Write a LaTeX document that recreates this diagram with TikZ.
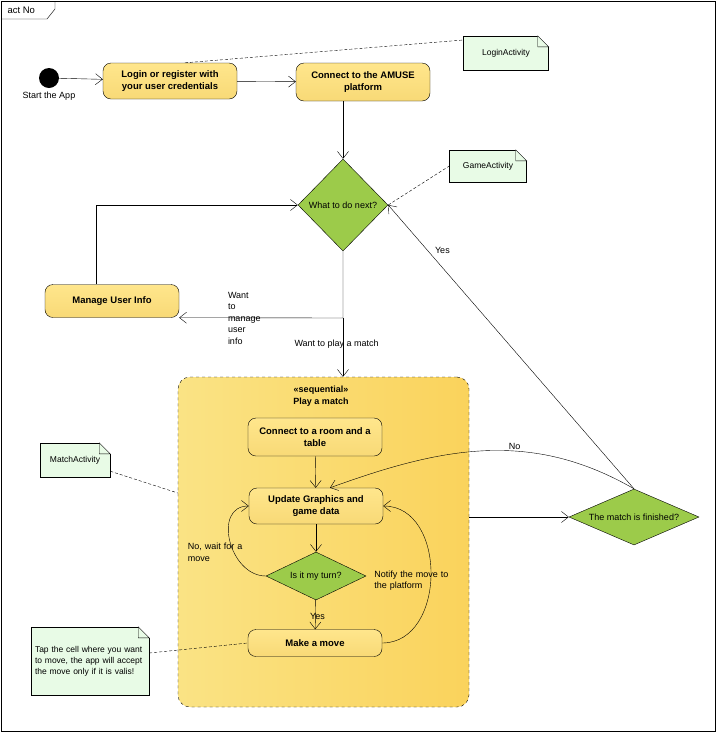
\documentclass[tikz,border=0pt]{standalone}
\usepackage{fontspec}
\setmainfont{Liberation Sans}
\usetikzlibrary{shapes.geometric, positioning, arrows.meta}
\definecolor{actfill}{HTML}{FFE68C}
\definecolor{actdark}{HTML}{F5C93C}
\definecolor{decfill}{HTML}{9CCB4A}
\definecolor{notefill}{HTML}{E8FBE6}
\definecolor{boxfill}{HTML}{F9DC66}
\tikzset{action/.style={draw, rounded corners=8pt, top color=actfill, bottom color=actdark!70, minimum width=134pt, minimum height=36pt, align=center, font=\fontsize{9.5}{12}\selectfont\bfseries},
         decision/.style={draw, diamond, fill=decfill, aspect=1, inner sep=0pt, font=\fontsize{9}{10}\selectfont},
         note/.style={draw, fill=notefill, align=left, font=\fontsize{8.5}{11}\selectfont, inner sep=4pt},
         lbl/.style={font=\fontsize{9}{11.5}\selectfont, align=left},
         flow/.style={-{Straight Barb[length=7pt,width=11pt]}},
         anchorline/.style={dashed, dash pattern=on 3pt off 2pt},
        }
\begin{document}
\begin{tikzpicture}[x=1pt,y=-1pt]
        \useasboundingbox (0,0) rectangle (716,732);
        \draw (1,1) rectangle (715,731);
        \draw (1,19) -- (47,19) -- (55,9) -- (55,1);
        \node[lbl, anchor=west, font=\fontsize{9.5}{11}\selectfont] (title) at (4,10) {act No};

        % sequential region
        \node[draw, dashed, rounded corners=12pt, left color=boxfill!80!white, right color=boxfill!90!orange, minimum width=291pt, minimum height=330pt] (seq) at (323.5,542) {};
        \node[align=center, font=\fontsize{9}{12}\selectfont\bfseries, anchor=north] (seqlbl) at (321,382) {«sequential»\\Play a match};

        \node[circle, fill=black, minimum size=20pt, inner sep=0pt, label={[lbl]below:Start the App}] (start) at (49,78) {};
        \node[action, minimum height=36pt] (login) at (170,81) {Login or register with\\your user credentials};
        \node[action, minimum height=38pt] (amuse) at (363,82) {Connect to the AMUSE\\platform};
        \node[decision, minimum width=90pt, minimum height=92pt] (next) at (343,205) {What to do next?};
        \node[action, minimum height=33pt] (user) at (112,301) {Manage User Info};

        \node[action, minimum height=38pt] (room) at (315,437) {Connect to a room and a\\table};
        \node[action, minimum height=36pt] (update) at (316,506) {Update Graphics and\\game data};
        \node[decision, minimum width=100pt, minimum height=48pt, aspect=2] (turn) at (316,576) {Is it my turn?};
        \node[action, minimum height=27pt] (move) at (315,643) {Make a move};
        \node[decision, minimum width=130pt, minimum height=56pt, aspect=2.3] (finished) at (634,517) {The match is finished?};

        \node[note, minimum width=85pt, minimum height=34pt] (nlogin) at (506,53) {LoginActivity};
        \node[note, minimum width=77pt, minimum height=32pt] (ngame) at (488,166) {GameActivity};
        \node[note, minimum width=70pt, minimum height=34pt] (nmatch) at (75,460) {MatchActivity};
        \node[note, text width=110pt, minimum height=68pt] (ntap) at (90,661) {Tap the cell where you want to move, the app will accept the move only if it is valis!};
        \foreach \n in {nlogin,ngame,nmatch,ntap}{
          \fill[white] (\n.north east) ++(-11,-1) rectangle ++(12,12);
          \draw[fill=notefill] (\n.north east) ++(-11,0) -- ++(11,11) -- ++(-11,0) -- cycle;
        }

        \draw[flow] (start) -- (login);
        \draw[flow] (login) -- (amuse);
        \draw[flow] (amuse.south -| next) -- (next);
        \draw[flow] (user.north west) ++(51,0) |- (next.west);
        \coordinate (split) at (343,318);
        \draw[flow] (next.south) -- (split) -- (user.south east);
        \draw[flow] (split) -- (seq.north -| split) node[lbl, pos=0.45, right=-52pt] {Want to play a match};
        \node[lbl, text width=30pt] (wantuser) at (243,318) {Want\\to\\manage\\user\\info};

        \draw[flow] (room) -- (update);
        \draw[flow] (update) -- (turn);
        \draw[flow] (turn) -- (move) node[lbl, midway, left=-13pt, yshift=-2pt] {Yes};
        \draw[flow] (turn.west) to[out=180, in=180, looseness=1.3] node[lbl, pos=0.45, left=-28pt, yshift=-6pt, text width=68pt] {No, wait for a\\move} (update.west);
        \draw[flow] (move.east) to[out=0, in=0, looseness=1.2] node[lbl, pos=0.5, left=-43pt, yshift=-6pt, text width=96pt] {Notify the move to\\the platform} (update.east);
        \draw[flow] (seq.east |- finished) -- (finished.west);
        \draw[flow] (finished.north) to[out=150, in=20] node[lbl, pos=0.4, above=-2pt] {No} ([xshift=14pt]update.north);
        \draw[flow] (finished.north) -- (next.east) node[lbl, pos=0.84, right=4pt] {Yes};

        \draw[anchorline] ([xshift=15pt]login.north) -- (nlogin.west |- 0,40);
        \draw[anchorline] (next.east) -- (ngame.west);
        \draw[anchorline] (nmatch.south east) ++(0,-6) -- (seq.west |- 0,493);
        \draw[anchorline] (ntap.east) ++(0,-8) -- (move.west);
    \end{tikzpicture}
\end{document}
